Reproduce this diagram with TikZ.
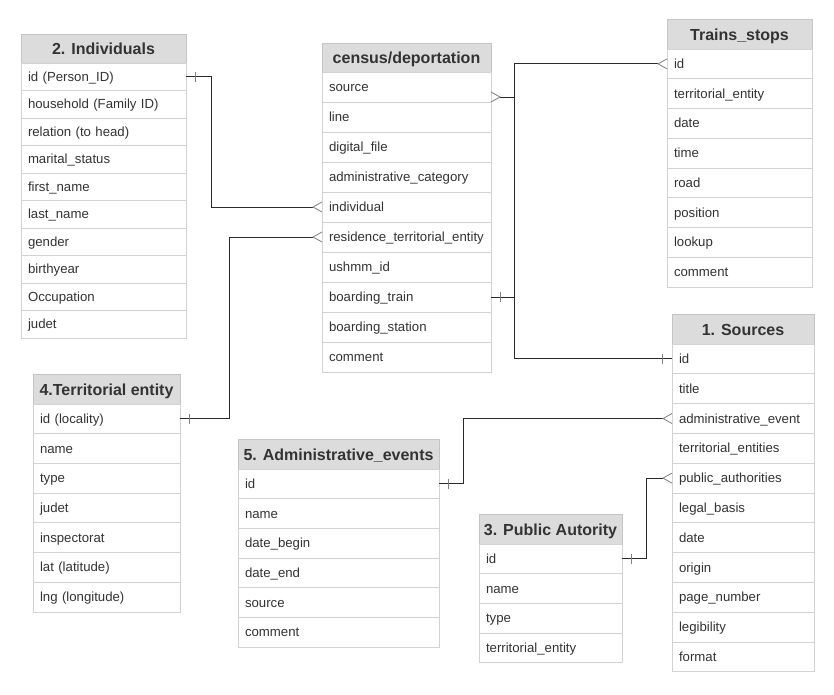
\documentclass[tikz,border=0pt]{standalone}
\usepackage{fontspec}
\setmainfont{Liberation Sans}
\definecolor{hdrfill}{HTML}{DCDCDC}
\definecolor{hdrline}{HTML}{C4C4C4}
\definecolor{rowline}{HTML}{D2D2D2}
\definecolor{txt}{HTML}{333333}
\definecolor{conncol}{HTML}{2A2A2A}
\definecolor{markcol}{HTML}{808080}
\tikzset{
  hdr/.style={draw=hdrline, fill=hdrfill, line width=0.8pt, inner sep=0pt, outer sep=0pt,
    text=txt, font=\fontsize{16}{19}\selectfont\bfseries, text height=14pt, text depth=2pt},
  rowbox/.style={draw=rowline, fill=white, line width=0.8pt, inner xsep=7pt, inner ysep=0pt, outer sep=0pt,
    align=left, text=txt, font=\fontsize{13.2}{15}\selectfont, text height=10.8pt, text depth=1.6pt},
  conn/.style={draw=conncol, line width=1pt},
  foot/.style={draw=markcol, line width=0.8pt},
  onebar/.style={draw=markcol, line width=0.8pt},
}
\newcommand{\ertable}[8]{%
  \pgfmathsetmacro\ertw{#4-14}%
  \node[hdr, minimum width=#4pt, minimum height=#5pt, anchor=north west] (#1-h) at (#2,#3) {#7};
  \foreach \t [count=\i] in {#8} {
    \pgfmathsetmacro\yy{#3+#5+(\i-1)*#6}
    \node[rowbox, text width=\ertw pt, minimum height=#6pt, anchor=north west] (#1-\i) at (#2,\yy) {\t};
  }
}
\begin{document}
\begin{tikzpicture}[x=1pt,y=-1pt]
\useasboundingbox (0,0) rectangle (834,694);
\fill[white] (0,0) rectangle (834,694);

\ertable{ind}{21}{34}{165}{29}{27.5}{2. Individuals}{id (Person\_ID),household (Family ID),relation (to head),marital\_status,first\_name,last\_name,gender,birthyear,Occupation,judet}
\ertable{cen}{322}{43}{169}{29}{30}{census/deportation}{source,line,digital\_file,administrative\_category,individual,residence\_territorial\_entity,ushmm\_id,boarding\_train,boarding\_station,comment}
\ertable{trn}{667}{19}{145}{30}{29.75}{Trains\_stops}{id,territorial\_entity,date,time,road,position,lookup,comment}
\ertable{src}{672}{314}{142}{30}{29.8}{1. Sources}{id,title,administrative\_event,territorial\_entities,public\_authorities,legal\_basis,date,origin,page\_number,legibility,format}
\ertable{ter}{33}{374}{147}{30}{29.7}{4.Territorial entity}{id (locality),name,type,judet,inspectorat,lat (latitude),lng (longitude)}
\ertable{adm}{238}{439}{201}{30}{29.7}{5. Administrative\_events}{id,name,date\_begin,date\_end,source,comment}
\ertable{pub}{479}{514}{143}{30}{29.7}{3. Public Autority}{id,name,type,territorial\_entity}

% Individuals.id -> census.individual
\draw[conn, shorten >=9pt] (ind-1.east) -- ++(25,0) |- (cen-5.west);
\draw[onebar] ([xshift=9pt,yshift=5pt]ind-1.east) -- ([xshift=9pt,yshift=-5pt]ind-1.east);
\draw[foot] ([yshift=5pt]cen-5.west) -- ([xshift=-9pt]cen-5.west) -- ([yshift=-5pt]cen-5.west);

% Territorial.id -> census.residence
\draw[conn, shorten >=9pt] (ter-1.east) -- ++(49,0) |- (cen-6.west);
\draw[onebar] ([xshift=9pt,yshift=5pt]ter-1.east) -- ([xshift=9pt,yshift=-5pt]ter-1.east);
\draw[foot] ([yshift=5pt]cen-6.west) -- ([xshift=-9pt]cen-6.west) -- ([yshift=-5pt]cen-6.west);

% census.source -> Sources.id
\coordinate (srcfk) at ([yshift=-10pt]cen-1.east);
\draw[conn, shorten <=9pt] (srcfk) -- ++(23,0) |- (src-1.west);
\draw[foot] ([yshift=5pt]srcfk) -- ([xshift=9pt]srcfk) -- ([yshift=-5pt]srcfk);
\draw[onebar] ([xshift=-10pt,yshift=5pt]src-1.west) -- ([xshift=-10pt,yshift=-5pt]src-1.west);

% census.boarding_train -> Trains_stops.id
\draw[conn, shorten >=9pt] (cen-8.east) -- ++(23,0) |- (trn-1.west);
\draw[onebar] ([xshift=9pt,yshift=5pt]cen-8.east) -- ([xshift=9pt,yshift=-5pt]cen-8.east);
\draw[foot] ([yshift=5pt]trn-1.west) -- ([xshift=-9pt]trn-1.west) -- ([yshift=-5pt]trn-1.west);

% Administrative_events.id -> Sources.administrative_event
\draw[conn, shorten >=9pt] (adm-1.east) -- ++(24,0) |- (src-3.west);
\draw[onebar] ([xshift=9pt,yshift=5pt]adm-1.east) -- ([xshift=9pt,yshift=-5pt]adm-1.east);
\draw[foot] ([yshift=5pt]src-3.west) -- ([xshift=-9pt]src-3.west) -- ([yshift=-5pt]src-3.west);

% Public Autority.id -> Sources.public_authorities
\draw[conn, shorten >=9pt] (pub-1.east) -- ++(24,0) |- (src-5.west);
\draw[onebar] ([xshift=9pt,yshift=5pt]pub-1.east) -- ([xshift=9pt,yshift=-5pt]pub-1.east);
\draw[foot] ([yshift=5pt]src-5.west) -- ([xshift=-9pt]src-5.west) -- ([yshift=-5pt]src-5.west);
\end{tikzpicture}
\end{document}
